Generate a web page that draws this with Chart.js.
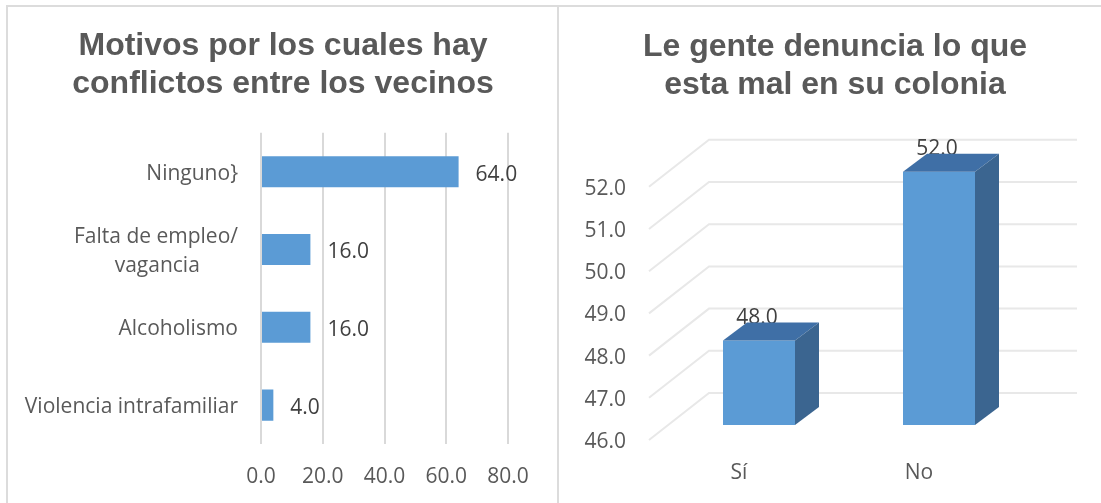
<!DOCTYPE html>
<html>
<head>
<meta charset="utf-8">
<script src="https://cdn.jsdelivr.net/npm/chart.js@4"></script>
<style>
  html, body { margin: 0; padding: 0; background: #fff; overflow: hidden; }
  .panel { position: absolute; box-sizing: border-box; border: 2px solid #dcdcdc; border-bottom: none; }
  #panel-left { left: 6px; top: 5px; width: 553px; height: 498px; }
  #panel-right { left: 559px; top: 5px; width: 542px; height: 498px; border-left: none; border-right: none; }
  canvas { position: absolute; }
  #motivos { left: 8px; top: 7px; }
  #denuncia { left: 569px; top: 7px; }
</style>
</head>
<body>
<div class="panel" id="panel-left"></div>
<div class="panel" id="panel-right"></div>
<canvas id="motivos" width="550" height="496"></canvas>
<canvas id="denuncia" width="532" height="496"></canvas>
<script>
const motivosTitle = ["Motivos por los cuales hay", "conflictos entre los vecinos"];
const motivosLabels = ["Ninguno}", ["Falta de empleo/", "vagancia"], "Alcoholismo", "Violencia intrafamiliar"];
const motivosValues = [64, 16, 16, 4];

const denunciaTitle = ["Le gente denuncia lo que", "esta mal en su colonia"];
const denunciaLabels = ["Sí", "No"];
const denunciaValues = [48, 52];

const FONT = "'Open Sans', 'Noto Sans', sans-serif";
const BLUE = "#5b9bd5";
const TOP_FACE = "#3f6fa6";
const SIDE_FACE = "#3b6590";
const GRID = "#e8e8e8";
const LABEL = "#404040";

// how far the bars and the back wall sit behind the front plane
const BAR_DX = 20, BAR_DY = -15;
const FACE_DX = 24, FACE_DY = -18;
const WALL_DX = 60, WALL_DY = -47;

Chart.defaults.font.family = FONT;
Chart.defaults.font.size = 21;
Chart.defaults.color = "#595959";
Chart.defaults.animation = false;

function titleOptions(lines, top, bottom) {
  return {
    display: true,
    text: lines,
    color: "#595959",
    font: { family: "'Liberation Sans', Arial, sans-serif", size: 32, weight: "bold", lineHeight: 1.2 },
    padding: { top: top, bottom: bottom },
  };
}

// empty axis that only reserves room right of the plot, the title stays centred on the canvas
function rightGap(width) {
  return {
    axis: "y",
    position: "right",
    ticks: { display: false },
    grid: { display: false },
    border: { display: false },
    afterFit(scale) { scale.width = width; },
  };
}

const barLabelsRight = {
  id: "barLabelsRight",
  afterDatasetsDraw(chart) {
    const ctx = chart.ctx;
    ctx.save();
    ctx.font = "21px " + FONT;
    ctx.fillStyle = LABEL;
    ctx.textAlign = "left";
    ctx.textBaseline = "middle";
    chart.getDatasetMeta(0).data.forEach((bar, i) => {
      ctx.fillText(motivosValues[i].toFixed(1), bar.x + 17, bar.y + 3);
    });
    ctx.restore();
  },
};

const box3d = {
  id: "box3d",
  beforeDatasetsDraw(chart) {
    const { ctx, chartArea, scales } = chart;
    ctx.save();
    ctx.strokeStyle = GRID;
    ctx.lineWidth = 2;
    scales.y.ticks.forEach((tick) => {
      const y = scales.y.getPixelForValue(tick.value);
      ctx.beginPath();
      ctx.moveTo(chartArea.left, y);
      ctx.lineTo(chartArea.left + WALL_DX, y + WALL_DY);
      ctx.lineTo(chartArea.right + WALL_DX + 8, y + WALL_DY);
      ctx.stroke();
    });
    ctx.restore();
  },
  beforeDatasetDraw(chart) {
    chart.ctx.save();
    chart.ctx.translate(BAR_DX, BAR_DY);
  },
  afterDatasetDraw(chart, args) {
    const ctx = chart.ctx;
    args.meta.data.forEach((bar, i) => {
      const right = bar.x + bar.width / 2;
      const left = bar.x - bar.width / 2;

      ctx.font = "21px " + FONT;
      ctx.fillStyle = LABEL;
      ctx.textAlign = "center";
      ctx.textBaseline = "middle";
      ctx.fillText(denunciaValues[i].toFixed(1), bar.x - 2, bar.y - 23);

      ctx.fillStyle = TOP_FACE;
      ctx.beginPath();
      ctx.moveTo(left, bar.y);
      ctx.lineTo(left + FACE_DX, bar.y + FACE_DY);
      ctx.lineTo(right + FACE_DX, bar.y + FACE_DY);
      ctx.lineTo(right, bar.y);
      ctx.closePath();
      ctx.fill();

      ctx.fillStyle = SIDE_FACE;
      ctx.beginPath();
      ctx.moveTo(right, bar.y);
      ctx.lineTo(right + FACE_DX, bar.y + FACE_DY);
      ctx.lineTo(right + FACE_DX, bar.base + FACE_DY);
      ctx.lineTo(right, bar.base);
      ctx.closePath();
      ctx.fill();
    });
    ctx.restore();
  },
};

new Chart(document.getElementById("motivos"), {
  type: "bar",
  data: {
    labels: motivosLabels,
    datasets: [{
      data: motivosValues,
      backgroundColor: BLUE,
      categoryPercentage: 1,
      barPercentage: 0.4,
    }],
  },
  options: {
    indexAxis: "y",
    responsive: false,
    plugins: {
      legend: { display: false },
      tooltip: { enabled: false },
      title: titleOptions(motivosTitle, 20, 29),
    },
    scales: {
      x: {
        min: 0,
        max: 80,
        ticks: { stepSize: 20, padding: 20, maxRotation: 0, callback: (v) => v.toFixed(1) },
        grid: { color: "#d9d9d9", lineWidth: 2, tickLength: 0 },
        border: { display: false },
        afterFit(scale) { scale.height = 59; },
      },
      y: {
        ticks: {
          padding: 15,
          labelOffset: 2,
          autoSkip: false,
          font: { lineHeight: 1.4 },
          // second line of the wrapped label sits centred under the first
          callback(value) {
            const label = this.getLabelForValue(value);
            return Array.isArray(label) ? [label[0], label[1] + "\u00a0".repeat(7)] : label;
          },
        },
        grid: { display: false },
        border: { display: false },
        afterFit(scale) { scale.width = 253; },
      },
      gap: rightGap(50),
    },
  },
  plugins: [barLabelsRight],
});

new Chart(document.getElementById("denuncia"), {
  type: "bar",
  data: {
    labels: denunciaLabels,
    datasets: [{
      data: denunciaValues,
      base: 46,
      backgroundColor: BLUE,
      categoryPercentage: 1,
      barPercentage: 0.4,
      clip: false,
    }],
  },
  options: {
    responsive: false,
    plugins: {
      legend: { display: false },
      tooltip: { enabled: false },
      title: titleOptions(denunciaTitle, 21, 82),
    },
    scales: {
      x: {
        ticks: { padding: 12, maxRotation: 0 },
        grid: { display: false },
        border: { display: false },
        afterFit(scale) { scale.height = 63; },
      },
      y: {
        min: 46,
        max: 52,
        ticks: { stepSize: 1, padding: 15, labelOffset: 2, callback: (v) => v.toFixed(1) },
        grid: { display: false },
        border: { display: false },
        afterFit(scale) { scale.width = 80; },
      },
      gap: rightGap(92),
    },
  },
  plugins: [box3d],
});
</script>
</body>
</html>
